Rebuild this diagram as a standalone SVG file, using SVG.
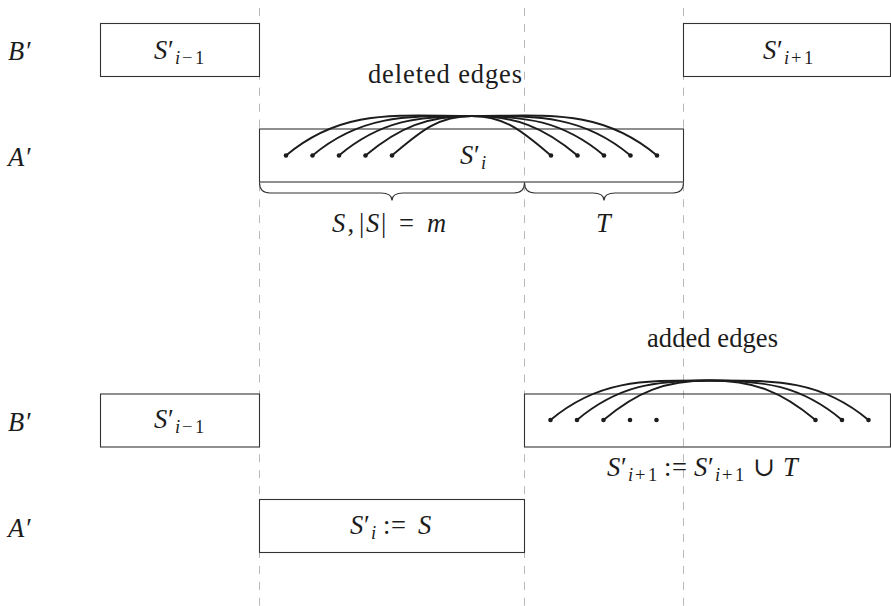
<svg xmlns="http://www.w3.org/2000/svg" width="891" height="606" viewBox="0 0 891 606">
<style>
.grid{stroke:#b8b8b8;stroke-width:1;stroke-dasharray:7.97 7.97;stroke-dashoffset:7.97;fill:none}
.box{fill:none;stroke:#333;stroke-width:1.1}
.edge{fill:none;stroke:#1c1c1c;stroke-width:1.9}
.brace{fill:none;stroke:#333;stroke-width:1.1}
.dot{fill:#1c1c1c}
text{font-family:"Liberation Serif","DejaVu Serif",serif;font-size:26.5px;fill:#1c1c1c}
.it{font-style:italic}
.sub{font-size:18.5px}
</style>
<g id="guides">
<line class="grid" x1="259.5" y1="0" x2="259.5" y2="606"/>
<line class="grid" x1="524.5" y1="0" x2="524.5" y2="606"/>
<line class="grid" x1="683.5" y1="0" x2="683.5" y2="606"/>
</g>
<g id="row-labels">
<text x="8" y="60"><tspan class="it">B</tspan><tspan dx="2">′</tspan></text>
<text x="8" y="166"><tspan class="it">A</tspan><tspan dx="2">′</tspan></text>
<text x="8" y="431"><tspan class="it">B</tspan><tspan dx="2">′</tspan></text>
<text x="8" y="537"><tspan class="it">A</tspan><tspan dx="2">′</tspan></text>
</g>
<g id="top-S-prev">
<rect class="box" x="100.5" y="23.5" width="159" height="53"/>
<text><tspan class="it" x="154" y="59">S</tspan><tspan x="168" y="59">′</tspan><tspan class="sub it" x="175" y="64">i</tspan><tspan class="sub" x="182" y="64">−</tspan><tspan class="sub" x="195" y="64">1</tspan></text>
</g>
<g id="top-S-next">
<rect class="box" x="683.5" y="23.5" width="207" height="53"/>
<text><tspan class="it" x="763" y="59">S</tspan><tspan x="777" y="59">′</tspan><tspan class="sub it" x="784" y="64">i</tspan><tspan class="sub" x="791" y="64">+</tspan><tspan class="sub" x="804" y="64">1</tspan></text>
</g>
<g id="top-S-i">
<rect class="box" x="259.5" y="129" width="424" height="53"/>
<text><tspan class="it" x="460" y="164">S</tspan><tspan x="474" y="164">′</tspan><tspan class="sub it" x="481" y="169">i</tspan></text>
</g>
<g id="label-deleted">
<text x="368" y="83" textLength="154" lengthAdjust="spacing">deleted edges</text>
</g>
<g id="brace-S">
<path class="brace" d="M259.5,182.5 C259.5,190 263,193 270,193 L381,193 C388,193 392,196 392,200.5 C392,196 396,193 403,193 L514,193 C521,193 524.5,190 524.5,182.5"/>
<text><tspan class="it" x="332" y="232">S</tspan><tspan x="347.5" y="232">,</tspan><tspan x="359" y="232">|</tspan><tspan class="it" x="366" y="232">S</tspan><tspan x="381" y="232">|</tspan><tspan x="399" y="232">=</tspan><tspan class="it" x="427" y="232">m</tspan></text>
</g>
<g id="brace-T">
<path class="brace" d="M524.5,182.5 C524.5,190 528,193 535,193 L593,193 C600,193 604,196 604,200.5 C604,196 608,193 615,193 L673,193 C680,193 683.5,190 683.5,182.5"/>
<text class="it" x="596" y="232">T</text>
</g>
<g id="bottom-S-prev">
<rect class="box" x="100.5" y="394" width="159" height="53"/>
<text><tspan class="it" x="154" y="428">S</tspan><tspan x="168" y="428">′</tspan><tspan class="sub it" x="175" y="433">i</tspan><tspan class="sub" x="182" y="433">−</tspan><tspan class="sub" x="195" y="433">1</tspan></text>
</g>
<g id="bottom-S-next">
<rect class="box" x="524.5" y="394" width="366" height="53"/>
<text><tspan class="it" x="607" y="476">S</tspan><tspan x="621" y="476">′</tspan><tspan class="sub it" x="628" y="481">i</tspan><tspan class="sub" x="635" y="481">+</tspan><tspan class="sub" x="648" y="481">1</tspan><tspan x="664" y="476">:</tspan><tspan x="672" y="476">=</tspan><tspan class="it" x="694" y="476">S</tspan><tspan x="708" y="476">′</tspan><tspan class="sub it" x="715" y="481">i</tspan><tspan class="sub" x="722" y="481">+</tspan><tspan class="sub" x="735" y="481">1</tspan><tspan x="753" y="476">∪</tspan><tspan class="it" x="783" y="476">T</tspan></text>
</g>
<g id="label-added">
<text x="647" y="347" textLength="131" lengthAdjust="spacing">added edges</text>
</g>
<g id="bottom-S-i">
<rect class="box" x="259.5" y="499.5" width="265" height="53"/>
<text><tspan class="it" x="350" y="534">S</tspan><tspan x="364" y="534">′</tspan><tspan class="sub it" x="371" y="539">i</tspan><tspan x="383" y="534">:</tspan><tspan x="391" y="534">=</tspan><tspan class="it" x="418" y="534">S</tspan></text>
</g>
<g id="connectors">
<path class="edge" d="M286,155.5 C342.9,107.8 397.3,116 471.5,116 C545.7,116 600.1,107.8 657,155.5"/>
<path class="edge" d="M312.5,155.5 C361.6,114.3 407.4,116 471.5,116 C535.6,116 581.4,114.3 630.5,155.5"/>
<path class="edge" d="M339,155.5 C380.5,120.7 417.4,116 471.5,116 C525.6,116 562.5,120.7 604,155.5"/>
<path class="edge" d="M365.5,155.5 C399.4,127 427.2,116 471.5,116 C515.8,116 543.6,127 577.5,155.5"/>
<path class="edge" d="M392,155.5 C418.6,133.2 436.8,116 471.5,116 C506.3,116 524.4,133.2 551,155.5"/>
<path class="edge" d="M550.5,420 C599.6,378.8 645.4,380.5 709.5,380.5 C773.6,380.5 819.4,378.8 868.5,420"/>
<path class="edge" d="M577,420 C618.5,385.2 655.4,380.5 709.5,380.5 C763.6,380.5 800.5,385.2 842,420"/>
<path class="edge" d="M603.5,420 C637.4,391.5 665.2,380.5 709.5,380.5 C753.8,380.5 781.6,391.5 815.5,420"/>
</g>
<g id="vertices">
<circle class="dot" cx="286" cy="155.5" r="2.3"/>
<circle class="dot" cx="312.5" cy="155.5" r="2.3"/>
<circle class="dot" cx="339" cy="155.5" r="2.3"/>
<circle class="dot" cx="365.5" cy="155.5" r="2.3"/>
<circle class="dot" cx="392" cy="155.5" r="2.3"/>
<circle class="dot" cx="551" cy="155.5" r="2.3"/>
<circle class="dot" cx="577.5" cy="155.5" r="2.3"/>
<circle class="dot" cx="604" cy="155.5" r="2.3"/>
<circle class="dot" cx="630.5" cy="155.5" r="2.3"/>
<circle class="dot" cx="657" cy="155.5" r="2.3"/>
<circle class="dot" cx="550.5" cy="420" r="2.3"/>
<circle class="dot" cx="577" cy="420" r="2.3"/>
<circle class="dot" cx="603.5" cy="420" r="2.3"/>
<circle class="dot" cx="630" cy="420" r="2.3"/>
<circle class="dot" cx="656.5" cy="420" r="2.3"/>
<circle class="dot" cx="815.5" cy="420" r="2.3"/>
<circle class="dot" cx="842" cy="420" r="2.3"/>
<circle class="dot" cx="868.5" cy="420" r="2.3"/>
</g>
</svg>
